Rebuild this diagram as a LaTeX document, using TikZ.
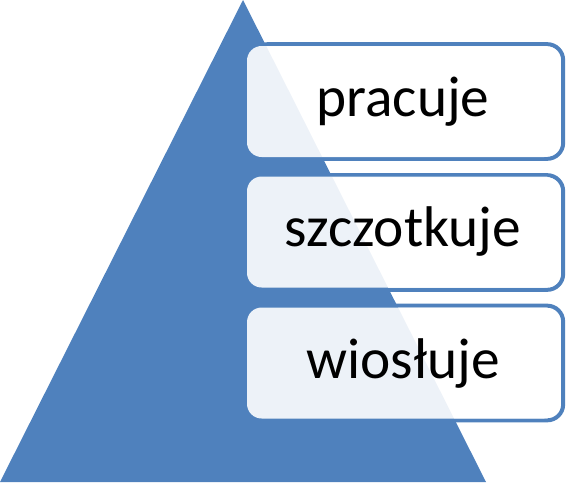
\documentclass[tikz,border=0pt]{standalone}
\usepackage{fontspec}
\setmainfont{Carlito}
\definecolor{pyrblue}{HTML}{4F81BD}
\tikzset{
    outlinebox/.style={draw=pyrblue, line width=3pt, rounded corners=12pt,
        minimum width=233.5pt, minimum height=86pt, inner sep=0pt},
    fillbox/.style={fill=white, fill opacity=0.9, text opacity=1, rounded corners=11pt,
        minimum width=234pt, minimum height=83.25pt, inner sep=0pt,
        font=\fontsize{43}{50}\selectfont}
}
\begin{document}
\begin{tikzpicture}[x=0.75pt, y=-0.75pt]
    \useasboundingbox (0,0) rectangle (566,486);
    
    \fill[pyrblue] (0,482) -- (486,482) -- (243,0) -- cycle;
    
    \node[outlinebox] (o1) at (407.5,101.5) {};
    \node[fillbox] (b1) at (403,101.5) {pracuje};
    
    \node[outlinebox] (o2) at (407.5,232.5) {};
    \node[fillbox] (b2) at (403,232) {szczotkuje};
    
    \node[outlinebox] (o3) at (407.5,363) {};
    \node[fillbox] (b3) at (403,363) {wiosłuje};
    
\end{tikzpicture}
\end{document}
